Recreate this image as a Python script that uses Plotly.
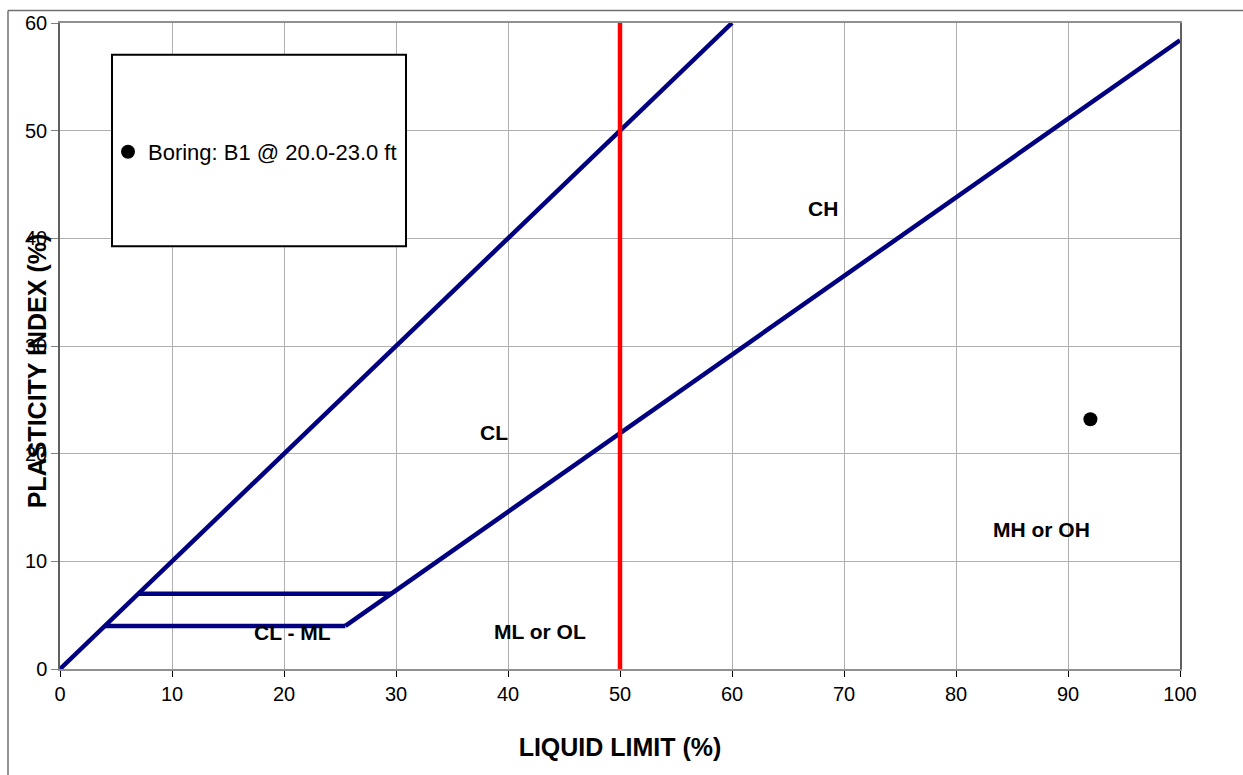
import plotly.graph_objects as go

# ---- data ----
u_line_ll = [0, 60]
u_line_pi = [0, 60]
a_line_ll = [25.48, 100]
a_line_pi = [4, 58.4]
clml_low_ll = [4, 25.48]
clml_low_pi = [4, 4]
clml_high_ll = [7, 29.59]
clml_high_pi = [7, 7]
ll50_x = [50, 50]
ll50_y = [0, 60]
sample_name = "Boring: B1 @ 20.0-23.0 ft"
sample_ll = [92]
sample_pi = [23.2]

zone_labels = ["CH", "CL", "MH or OH", "ML or OL", "CL - ML"]
zone_x = [68.1, 38.75, 87.6, 42.9, 20.8]
zone_y = [42.8, 22.0, 13.0, 3.5, 3.4]

NAVY = "#000080"
FONT = "Liberation Sans, Arial, sans-serif"

fig = go.Figure()
for xs, ys in [(u_line_ll, u_line_pi), (a_line_ll, a_line_pi),
               (clml_low_ll, clml_low_pi), (clml_high_ll, clml_high_pi)]:
    fig.add_trace(go.Scatter(x=xs, y=ys, mode="lines", showlegend=False,
                             line=dict(color=NAVY, width=4.5), hoverinfo="skip"))
fig.add_trace(go.Scatter(x=ll50_x, y=ll50_y, mode="lines", showlegend=False,
                         line=dict(color="#ff0000", width=4.5), hoverinfo="skip"))
fig.add_trace(go.Scatter(x=sample_ll, y=sample_pi, mode="markers", name=sample_name,
                         marker=dict(color="black", size=14, symbol="circle")))

for t, x, y in zip(zone_labels, zone_x, zone_y):
    fig.add_annotation(x=x, y=y, text="<b>%s</b>" % t, showarrow=False,
                       font=dict(family=FONT, size=21, color="black"))

L, R, T, B = 60, 63, 18, 106
W, H = 1243, 775
pw, ph = W - L - R, H - T - B

def px(xp):
    return (xp - L) / pw

def py(yp):
    return (H - B - yp) / ph

# legend box
fig.add_shape(type="rect", xref="paper", yref="paper",
              x0=px(112), x1=px(406), y0=py(243), y1=py(50),
              line=dict(color="black", width=2), fillcolor="white", layer="above")
# outer chart border (top and left visible)
fig.add_shape(type="line", xref="paper", yref="paper",
              x0=px(8), x1=px(1245), y0=py(5.5), y1=py(5.5),
              line=dict(color="#707070", width=1.5))
fig.add_shape(type="line", xref="paper", yref="paper",
              x0=px(8), x1=px(8), y0=py(5.5), y1=py(780),
              line=dict(color="#707070", width=1.5))

# y title as annotation (overlaps tick labels as in reference)
fig.add_annotation(xref="paper", yref="paper", x=px(37), y=py(369),
                   xanchor="center", yanchor="middle",
                   text="<b>PLASTICITY INDEX (%)</b>", textangle=-90, showarrow=False,
                   font=dict(family=FONT, size=25, color="black"))

fig.update_layout(
    width=W, height=H,
    margin=dict(l=L, r=R, t=T, b=B),
    paper_bgcolor="white", plot_bgcolor="white",
    font=dict(family=FONT, size=20, color="black"),
    showlegend=True,
    legend=dict(x=px(108), y=py(148), xanchor="left", yanchor="middle",
                bgcolor="rgba(0,0,0,0)", borderwidth=0,
                font=dict(family=FONT, size=22, color="black")),
    xaxis=dict(range=[0, 100], dtick=10, showgrid=True, gridcolor="#b0b0b0", gridwidth=1,
               showline=True, linecolor="#909090", linewidth=2, mirror=True,
               ticks="outside", ticklen=6, tickcolor="black", zeroline=False,
               tickfont=dict(family=FONT, size=20, color="black"),
               title=dict(text="<b>LIQUID LIMIT (%)</b>", standoff=34,
                          font=dict(family=FONT, size=25, color="black"))),
    yaxis=dict(range=[0, 60], dtick=10, showgrid=True, gridcolor="#b0b0b0", gridwidth=1,
               showline=True, linecolor="#606060", linewidth=1.5, mirror=True,
               ticks="outside", ticklen=7, tickcolor="#808080", zeroline=False,
               tickfont=dict(family=FONT, size=20, color="black")),
)

fig.write_html("out.html", config={"displayModeBar": False},
               post_script="document.body.style.margin='0';")
